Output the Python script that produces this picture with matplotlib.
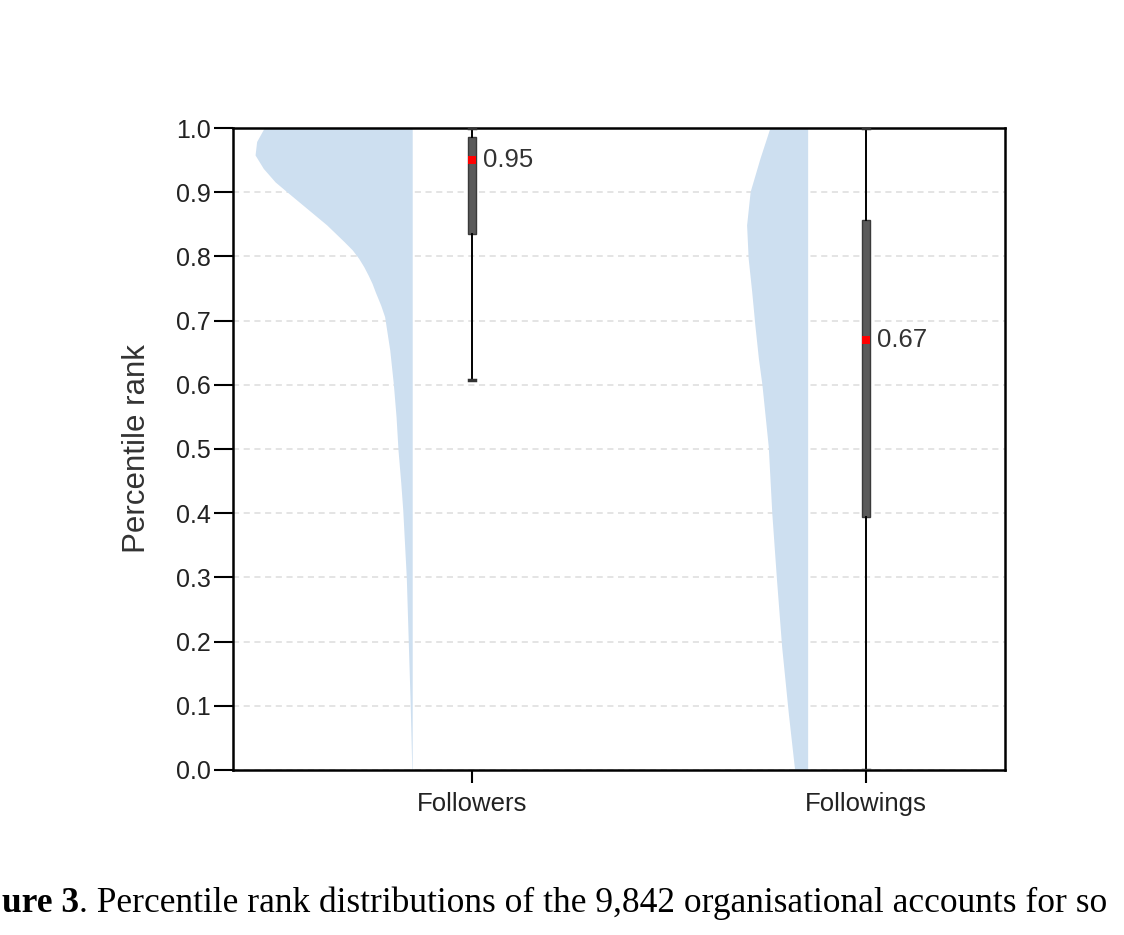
import matplotlib
matplotlib.use('Agg')
import matplotlib.pyplot as plt

# --- datos ---
categorias = ["Followers", "Followings"]

# perfil de la media-violín (nivel de percentil, anchura en unidades del eje x)
niveles_followers = [1.0, 0.979, 0.958, 0.937, 0.916, 0.901, 0.875, 0.849, 0.823, 0.81,
                     0.797, 0.784, 0.771, 0.758, 0.745, 0.724, 0.706, 0.654, 0.602, 0.55,
                     0.498, 0.447, 0.405, 0.30, 0.20, 0.10, 0.0]
ancho_followers = [0.376, 0.395, 0.399, 0.378, 0.348, 0.319, 0.268, 0.217, 0.173, 0.152,
                   0.136, 0.123, 0.112, 0.102, 0.094, 0.080, 0.070, 0.057, 0.048, 0.041,
                   0.036, 0.029, 0.024, 0.015, 0.010, 0.005, 0.001]

niveles_followings = [1.0, 0.953, 0.901, 0.849, 0.797, 0.745, 0.693, 0.641, 0.60, 0.504,
                      0.40, 0.296, 0.192, 0.088, 0.0]
ancho_followings = [0.096, 0.121, 0.146, 0.155, 0.151, 0.142, 0.134, 0.125, 0.116, 0.100,
                    0.091, 0.079, 0.066, 0.049, 0.033]

# estadísticos del boxplot
q1 = [0.835, 0.394]
mediana = [0.95, 0.67]
q3 = [0.986, 0.857]
bigote_inf = [0.607, 0.0]
bigote_sup = [1.0, 1.0]
etiquetas_mediana = ["0.95", "0.67"]

plt.rcParams['font.family'] = ['Liberation Sans', 'DejaVu Sans']

fig = plt.figure(figsize=(11.24, 9.35), dpi=100)
ax = fig.add_axes([0.2073, 0.1765, 0.6868, 0.6866])

posiciones = [0, 1]
desplaz = [0.152, 0.148]
color_violin = '#cddff0'

for pos, d, niv, anc in [(0, desplaz[0], niveles_followers, ancho_followers),
                         (1, desplaz[1], niveles_followings, ancho_followings)]:
    borde = pos - d
    izq = [borde - a for a in anc]
    ax.fill_betweenx(niv, izq, borde, color=color_violin, linewidth=0, zorder=2)

stats = []
for i in range(2):
    stats.append({'med': mediana[i], 'q1': q1[i], 'q3': q3[i],
                  'whislo': bigote_inf[i], 'whishi': bigote_sup[i], 'fliers': []})

ax.bxp(stats, positions=posiciones, widths=0.022, patch_artist=True,
       showfliers=False, capwidths=0.016,
       boxprops=dict(facecolor='#5a5a5a', edgecolor='#3a3a3a', linewidth=1),
       whiskerprops=dict(color='black', linewidth=1.4),
       capprops=dict(color='#333333', linewidth=2.5),
       medianprops=dict(linewidth=0),
       zorder=3)

ax.scatter(posiciones, mediana, marker='s', s=36, color='red', zorder=5, linewidths=0)
for pos, med, txt in zip(posiciones, mediana, etiquetas_mediana):
    ax.annotate(txt, xy=(pos, med), xytext=(8, 0), textcoords='offset points',
                va='center', ha='left', fontsize=18.5, color='#333333')

ax.set_xlim(-0.607, 1.353)
ax.set_ylim(0, 1.0)
ax.set_xticks(posiciones)
ax.set_xticklabels(categorias, fontsize=18.5)
ax.set_yticks([i / 10 for i in range(11)])
ax.set_yticklabels([f"{i / 10:.1f}" for i in range(11)], fontsize=18)
ax.tick_params(axis='y', direction='out', length=14, width=1.5, pad=2)
ax.tick_params(axis='x', direction='out', length=9, width=1.5, pad=7)
ax.set_ylabel("Percentile rank", fontsize=22.5, labelpad=17, color='#333333')
for t in ax.get_xticklabels() + ax.get_yticklabels():
    t.set_color('#222222')

for s in ax.spines.values():
    s.set_linewidth(1.8)
ax.set_axisbelow(True)
ax.yaxis.grid(True, linestyle=(0, (4, 3)), color='#dcdcdc', linewidth=1.1)

# pie de figura (cortado a la izquierda como en el original)
t1 = fig.text(0.002, 0.0246, "ure 3", fontsize=25.5, fontweight='bold',
              family='Liberation Serif', ha='left', va='baseline')
ax.annotate(". Percentile rank distributions of the 9,842 organisational accounts for so",
            xy=(1, 0), xycoords=t1, va='bottom', ha='left', fontsize=25.5,
            family='Liberation Serif', annotation_clip=False)

fig.savefig("out.png", dpi=100)
